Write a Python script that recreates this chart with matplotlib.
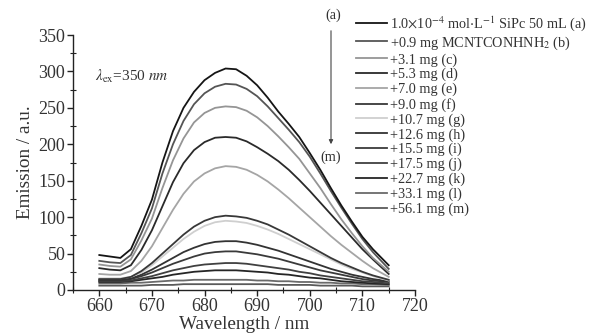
import matplotlib
matplotlib.use("Agg")
import matplotlib.pyplot as plt
from matplotlib.ticker import MultipleLocator

plt.rcParams['font.family'] = ['Liberation Serif', 'DejaVu Serif']
plt.rcParams['mathtext.fontset'] = 'stix'

wavelength = [660, 662, 664, 666, 668, 670, 672, 674, 676, 678, 680, 682, 684, 686,
              688, 690, 692, 694, 696, 698, 700, 702, 704, 706, 708, 710, 712, 715]

em_a = [48, 46, 44, 56, 88, 124, 175, 218, 250, 272, 288, 298, 304, 303, 294, 281, 264, 245, 228, 210, 188, 165, 140, 116, 94, 73, 56, 34]
em_b = [40, 38, 37, 48, 78, 112, 160, 200, 232, 255, 270, 279, 283, 282, 276, 266, 252, 236, 220, 203, 183, 160, 136, 113, 91, 70, 52, 29]
em_c = [35, 33, 32, 42, 68, 98, 140, 178, 208, 230, 243, 250, 252, 251, 246, 237, 225, 211, 196, 180, 160, 140, 118, 97, 78, 60, 44, 25]
em_d = [30, 28, 27, 34, 55, 82, 115, 148, 174, 192, 203, 209, 210, 209, 204, 196, 187, 177, 165, 151, 136, 120, 104, 88, 72, 56, 42, 22]
em_e = [22, 21, 21, 26, 40, 60, 85, 110, 132, 149, 160, 167, 170, 169, 165, 158, 149, 138, 126, 113, 100, 87, 74, 62, 51, 40, 30, 18]
em_f = [15, 15, 15, 18, 26, 37, 50, 63, 76, 87, 95, 100, 102, 101, 99, 95, 90, 83, 76, 68, 60, 52, 44, 37, 31, 25, 20, 14]
em_g = [16, 16, 16, 18, 24, 34, 46, 58, 70, 80, 88, 93, 95, 94, 92, 88, 83, 77, 70, 63, 56, 49, 42, 35, 29, 24, 19, 13]
em_h = [14, 14, 14, 16, 21, 28, 36, 44, 52, 58, 63, 66, 67, 67, 65, 62, 58, 54, 49, 44, 39, 34, 29, 25, 21, 18, 15, 12]
em_i = [13, 13, 13, 15, 19, 24, 30, 36, 41, 46, 50, 52, 53, 53, 51, 49, 46, 43, 39, 35, 31, 27, 24, 21, 18, 15, 13, 11]
em_j = [12, 12, 12, 13, 16, 19, 23, 27, 30, 33, 35, 36, 37, 37, 36, 34, 32, 30, 28, 25, 23, 20, 18, 16, 14, 12, 11, 9]
em_k = [11, 11, 11, 12, 14, 16, 18, 21, 23, 25, 26, 27, 27, 27, 26, 25, 24, 22, 21, 19, 17, 16, 14, 12, 11, 10, 9, 8]
em_l = [9, 9, 9, 10, 10, 11, 12, 13, 13, 14, 14, 14, 14, 14, 14, 13, 13, 12, 12, 11, 11, 10, 10, 9, 9, 8, 8, 7]
em_m = [6, 6, 6, 6, 6, 7, 7, 7, 8, 8, 8, 8, 8, 8, 8, 8, 8, 7, 7, 7, 7, 6, 6, 6, 6, 5, 5, 5]

series = [em_a, em_b, em_c, em_d, em_e, em_f, em_g, em_h, em_i, em_j, em_k, em_l, em_m]
labels = [
    r"1.0$\times$10$^{-4}$ mol$\cdot$L$^{-1}$ SiPc 50 mL (a)",
    r"+0.9 mg MCNTCONHNH$_2$ (b)",
    "+3.1 mg (c)",
    "+5.3 mg (d)",
    "+7.0 mg (e)",
    "+9.0 mg (f)",
    "+10.7 mg (g)",
    "+12.6 mg (h)",
    "+15.5 mg (i)",
    "+17.5 mg (j)",
    "+22.7 mg (k)",
    "+33.1 mg (l)",
    "+56.1 mg (m)",
]
colors = ['#151515', '#555555', '#959595', '#2a2a2a', '#a5a5a5', '#383838', '#cfcfcf',
          '#333333', '#3a3a3a', '#404040', '#252525', '#6a6a6a', '#5a5a5a']
zorders = [13, 12, 11, 10, 9, 8, 7, 6, 5, 4, 3, 2, 1]

W, H = 595, 335
fig = plt.figure(figsize=(W / 100, H / 100), dpi=100)
ax = fig.add_axes([73 / W, (H - 290) / H, 342 / W, 255 / H])

for ys, lab, col, z in zip(series, labels, colors, zorders):
    ax.plot(wavelength, ys, color=col, lw=1.3, label=lab, zorder=z)

txt = '#333333'
ax.set_xlim(655, 720)
ax.set_ylim(0, 350)
ax.xaxis.set_major_locator(MultipleLocator(10))
ax.xaxis.set_minor_locator(MultipleLocator(5))
ax.yaxis.set_major_locator(MultipleLocator(50))
ax.yaxis.set_minor_locator(MultipleLocator(25))
ax.spines['top'].set_visible(False)
ax.spines['right'].set_visible(False)
for s in ('left', 'bottom'):
    ax.spines[s].set_linewidth(1.0)
    ax.spines[s].set_color('#222222')
    ax.spines[s].set_zorder(20)
ax.tick_params(axis='both', which='major', direction='out', length=4, width=1.0,
               labelsize=13, pad=1.5, labelcolor=txt, color='#222222')
ax.tick_params(axis='y', which='minor', direction='inout', length=4, width=0.8, color='#222222')
ax.tick_params(axis='x', which='minor', direction='inout', length=4, width=0.8, color='#222222')
ax.set_xlabel("Wavelength / nm", fontsize=13.8, labelpad=1, color=txt)
ax.set_ylabel("Emission / a.u.", fontsize=13.8, labelpad=3, color=txt)

ax.text(659.2, 293, r"$\lambda_{\rm ex}$=350 $nm$", fontsize=11, va='center', ha='left',
        color=txt)

leg = ax.legend(loc='upper left', bbox_to_anchor=(356 / W, 1 - 14 / H),
                bbox_transform=fig.transFigure, frameon=False, fontsize=10.3,
                handlelength=2.2, handletextpad=0.2, labelspacing=0.1,
                borderpad=0, borderaxespad=0)
for t in leg.get_texts():
    t.set_color(txt)

# arrow annotation (a) -> (m)
fig.text(333 / W, 1 - 15 / H, "(a)", ha='center', va='center', fontsize=10.3, color=txt)
fig.text(331 / W, 1 - 157 / H, "(m)", ha='center', va='center', fontsize=10.3, color=txt)
ax.annotate("", xy=(331 / W, 1 - 147 / H), xytext=(331 / W, 1 - 28 / H),
            xycoords='figure fraction', textcoords='figure fraction',
            arrowprops=dict(arrowstyle='-|>', color='#444444', lw=0.8,
                            mutation_scale=6))

fig.savefig("out.png", dpi=100)
